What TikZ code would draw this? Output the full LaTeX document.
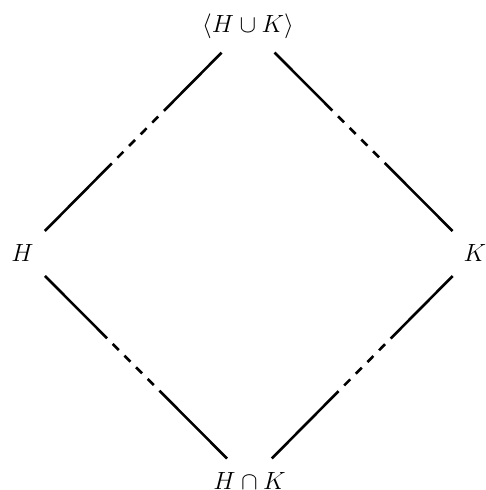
\documentclass[tikz,border=0pt]{standalone}
\usepackage{amsmath}
\begin{document}
\begin{tikzpicture}[x=1pt,y=1pt,
  lbl/.style={font=\fontsize{32}{38}\selectfont, inner sep=0pt},
  link/.style={line width=2.6pt, line cap=butt},
  toplink/.style={link, shorten <=37.5pt, shorten >=31.8pt,
    dash pattern=on 82pt off 8pt on 8.5pt off 8pt on 8.5pt off 8pt on 8.5pt off 8pt on 8.5pt off 8pt on 400pt},
  botlink/.style={link, shorten <=31.8pt, shorten >=31.8pt,
    dash pattern=on 88pt off 8pt on 8.5pt off 8pt on 8.5pt off 8pt on 8.5pt off 8pt on 8.5pt off 8pt on 400pt}]
\useasboundingbox (0,0) rectangle (486,490);
\node[lbl] (T) at (248,464) {$\langle H\cup K\rangle$};
\node[lbl] (H) at (22.5,236.5) {$H$};
\node[lbl] (K) at (475,236.5) {$K$};
\node[lbl] (B) at (249.5,9) {$H\cap K$};
\draw[toplink] (T.center) -- (H.center);
\draw[toplink] (T.center) -- (K.center);
\draw[botlink] (H.center) -- (B.center);
\draw[botlink] (K.center) -- (B.center);
\end{tikzpicture}
\end{document}
